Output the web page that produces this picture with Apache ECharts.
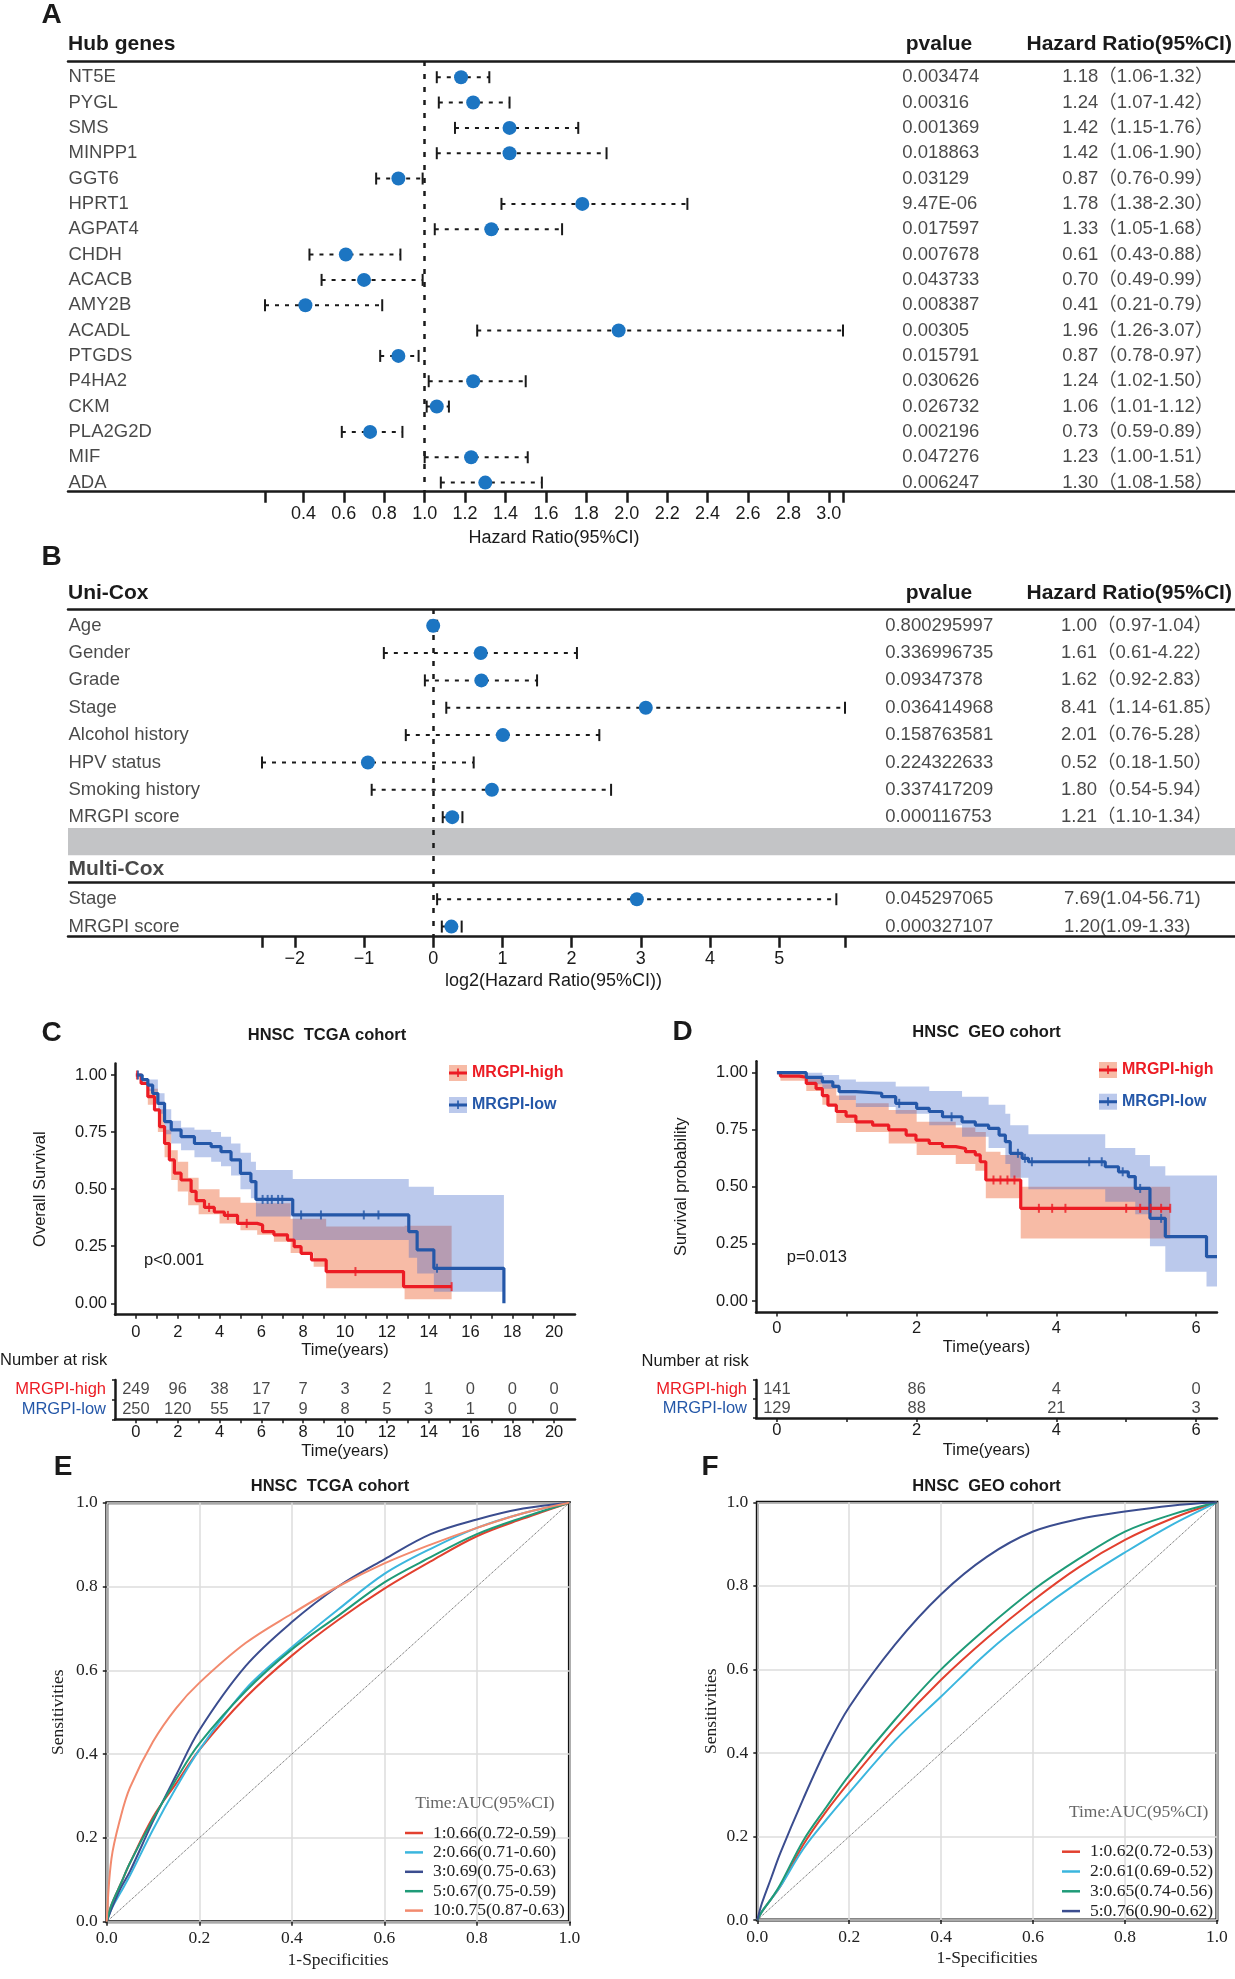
<!DOCTYPE html>
<html>
<head>
<meta charset="utf-8">
<script src="https://cdn.jsdelivr.net/npm/echarts@6/dist/echarts.min.js"></script>
<style>
html, body { margin: 0; padding: 0; background: #fff; }
#main { width: 1235px; height: 1979px; }
</style>
</head>
<body>
<div id="main"></div>
<script>
// ---- panel A : hub genes ----
var geneNames = ['NT5E', 'PYGL', 'SMS', 'MINPP1', 'GGT6', 'HPRT1', 'AGPAT4', 'CHDH', 'ACACB', 'AMY2B', 'ACADL', 'PTGDS', 'P4HA2', 'CKM', 'PLA2G2D', 'MIF', 'ADA'];
var geneP = ['0.003474', '0.00316', '0.001369', '0.018863', '0.03129', '9.47E-06', '0.017597', '0.007678', '0.043733', '0.008387', '0.00305', '0.015791', '0.030626', '0.026732', '0.002196', '0.047276', '0.006247'];
var geneHR = [1.18, 1.24, 1.42, 1.42, 0.87, 1.78, 1.33, 0.61, 0.70, 0.41, 1.96, 0.87, 1.24, 1.06, 0.73, 1.23, 1.30];
var geneLo = [1.06, 1.07, 1.15, 1.06, 0.76, 1.38, 1.05, 0.43, 0.49, 0.21, 1.26, 0.78, 1.02, 1.01, 0.59, 1.00, 1.08];
var geneHi = [1.32, 1.42, 1.76, 1.90, 0.99, 2.30, 1.68, 0.88, 0.99, 0.79, 3.07, 0.97, 1.50, 1.12, 0.89, 1.51, 1.58];
var hrTicks = [0.4, 0.6, 0.8, 1.0, 1.2, 1.4, 1.6, 1.8, 2.0, 2.2, 2.4, 2.6, 2.8, 3.0];

// ---- panel B : uni / multi cox ----
var uniVars = ['Age', 'Gender', 'Grade', 'Stage', 'Alcohol history', 'HPV status', 'Smoking history', 'MRGPI score'];
var uniP = ['0.800295997', '0.336996735', '0.09347378', '0.036414968', '0.158763581', '0.224322633', '0.337417209', '0.000116753'];
var uniHR = [1.00, 1.61, 1.62, 8.41, 2.01, 0.52, 1.80, 1.21];
var uniLo = [0.97, 0.61, 0.92, 1.14, 0.76, 0.18, 0.54, 1.10];
var uniHi = [1.04, 4.22, 2.83, 61.85, 5.28, 1.50, 5.94, 1.34];
var multiVars = ['Stage', 'MRGPI score'];
var multiP = ['0.045297065', '0.000327107'];
var multiHR = [7.69, 1.20];
var multiLo = [1.04, 1.09];
var multiHi = [56.71, 1.33];
var logTicks = [-2, -1, 0, 1, 2, 3, 4, 5];

// ---- panel C : TCGA KM ----
var cHigh = [[0, 1], [0.25, 0.963], [0.57, 0.905], [0.89, 0.847], [1.13, 0.774], [1.37, 0.70], [1.6, 0.628], [1.84, 0.57], [2.16, 0.54], [2.64, 0.49], [2.88, 0.45], [3.28, 0.42], [3.75, 0.40], [4.23, 0.385], [4.86, 0.35], [5.8, 0.343], [6.06, 0.314], [6.6, 0.30], [7.25, 0.277], [7.57, 0.248], [7.9, 0.219], [8.4, 0.19], [9.1, 0.139], [12.8, 0.073], [15.1, 0.073]];
var cLow = [[0, 1], [0.3, 0.98], [0.57, 0.956], [0.8, 0.92], [1.05, 0.876], [1.37, 0.796], [1.69, 0.76], [2.16, 0.73], [2.8, 0.70], [3.6, 0.686], [4.07, 0.664], [4.55, 0.628], [5.0, 0.569], [5.5, 0.533], [5.74, 0.455], [7.5, 0.387], [13.05, 0.314], [13.45, 0.234], [14.25, 0.153], [17.6, 0]];
var cHighBand = [[0, 1, 1], [0.57, 0.87, 0.94], [1.05, 0.75, 0.85], [1.37, 0.64, 0.76], [1.69, 0.54, 0.67], [2.0, 0.49, 0.62], [2.5, 0.43, 0.55], [3.0, 0.39, 0.50], [4.0, 0.35, 0.465], [5.0, 0.32, 0.44], [5.8, 0.30, 0.438], [6.6, 0.27, 0.438], [7.4, 0.22, 0.37], [8.5, 0.16, 0.37], [9.1, 0.066, 0.336], [12.85, 0.018, 0.34], [15.1, 0.018, 0.34]];
var cLowBand = [[0, 1, 1], [0.57, 0.93, 0.98], [1.05, 0.83, 0.92], [1.37, 0.74, 0.85], [1.69, 0.70, 0.80], [2.16, 0.67, 0.77], [2.8, 0.64, 0.76], [3.6, 0.62, 0.75], [4.07, 0.60, 0.73], [4.55, 0.56, 0.70], [5.0, 0.50, 0.66], [5.5, 0.46, 0.62], [5.74, 0.38, 0.584], [7.5, 0.277, 0.545], [13.05, 0.20, 0.51], [13.45, 0.13, 0.51], [14.25, 0.051, 0.474], [17.6, 0.051, 0.474]];
var cHighCens = [[0.05, 1.0], [3.5, 0.42], [4.4, 0.385], [5.3, 0.35], [10.5, 0.139], [15.1, 0.073]];
var cLowCens = [[0.1, 1.0], [6.06, 0.455], [6.3, 0.455], [6.5, 0.455], [6.8, 0.455], [7.0, 0.455], [7.9, 0.387], [8.85, 0.387], [10.9, 0.387], [11.6, 0.387], [14.4, 0.153]];
var riskTimesC = [0, 2, 4, 6, 8, 10, 12, 14, 16, 18, 20];
var riskHighC = [249, 96, 38, 17, 7, 3, 2, 1, 0, 0, 0];
var riskLowC = [250, 120, 55, 17, 9, 8, 5, 3, 1, 0, 0];
var yearTicksC = [0, 1, 2, 3, 4, 5, 6, 7, 8, 9, 10, 11, 12, 13, 14, 15, 16, 17, 18, 19, 20];
var yearLabelsC = [0, 2, 4, 6, 8, 10, 12, 14, 16, 18, 20];

// ---- panel D : GEO KM ----
var dHigh = [[0, 1], [0.05, 0.985], [0.32, 0.98], [0.42, 0.953], [0.56, 0.93], [0.65, 0.90], [0.73, 0.858], [0.85, 0.83], [0.99, 0.81], [1.13, 0.785], [1.37, 0.77], [1.6, 0.75], [1.85, 0.727], [1.99, 0.705], [2.18, 0.69], [2.37, 0.676], [2.56, 0.668], [2.7, 0.654], [2.84, 0.64], [2.91, 0.61], [2.99, 0.53], [3.49, 0.406], [5.63, 0.406]];
var dLow = [[0, 1], [0.42, 0.98], [0.65, 0.96], [0.8, 0.94], [0.89, 0.917], [1.13, 0.91], [1.5, 0.895], [1.7, 0.866], [2.0, 0.844], [2.18, 0.83], [2.37, 0.807], [2.65, 0.785], [2.84, 0.77], [3.03, 0.756], [3.18, 0.727], [3.27, 0.698], [3.34, 0.647], [3.51, 0.625], [3.6, 0.61], [4.7, 0.588], [4.89, 0.566], [5.03, 0.545], [5.13, 0.493], [5.34, 0.362], [5.56, 0.282], [6.15, 0.194], [6.3, 0.194]];
var dHighBand = [[0, 1, 1], [0.05, 0.965, 1], [0.42, 0.92, 0.985], [0.65, 0.86, 0.95], [0.85, 0.78, 0.90], [1.13, 0.74, 0.866], [1.6, 0.69, 0.837], [2.0, 0.64, 0.785], [2.56, 0.60, 0.76], [2.84, 0.57, 0.74], [2.99, 0.45, 0.654], [3.2, 0.45, 0.64], [3.49, 0.274, 0.50], [5.63, 0.274, 0.50]];
var dLowBand = [[0, 1, 1], [0.42, 0.95, 1], [0.65, 0.93, 0.99], [0.89, 0.88, 0.97], [1.13, 0.85, 0.96], [1.7, 0.82, 0.94], [2.18, 0.77, 0.92], [2.65, 0.72, 0.895], [3.03, 0.67, 0.86], [3.27, 0.60, 0.82], [3.34, 0.54, 0.77], [3.6, 0.49, 0.73], [4.7, 0.435, 0.67], [5.13, 0.38, 0.64], [5.34, 0.24, 0.59], [5.56, 0.128, 0.55], [6.15, 0.063, 0.55], [6.3, 0.063, 0.55]];
var dHighCens = [[3.1, 0.53], [3.2, 0.53], [3.3, 0.53], [3.4, 0.53], [3.75, 0.406], [3.94, 0.406], [4.13, 0.406], [5.0, 0.406], [5.2, 0.406], [5.35, 0.406], [5.5, 0.406], [5.63, 0.406]];
var dLowCens = [[1.75, 0.866], [2.5, 0.807], [3.45, 0.647], [3.55, 0.625], [3.65, 0.61], [4.47, 0.61], [4.65, 0.61], [4.95, 0.566], [5.2, 0.493], [5.5, 0.362]];
var riskTimesD = [0, 2, 4, 6];
var riskHighD = [141, 86, 4, 0];
var riskLowD = [129, 88, 21, 3];
var yearTicksD = [0, 1, 2, 3, 4, 5, 6];
var yearLabelsD = [0, 2, 4, 6];
var survTicks = [0, 0.25, 0.5, 0.75, 1];

// ---- panels E / F : time ROC ----
var fpr = [0, 0.01, 0.03, 0.05, 0.1, 0.15, 0.2, 0.3, 0.4, 0.5, 0.6, 0.7, 0.8, 0.9, 1];
var rocNamesE = ['1:0.66(0.72-0.59)', '2:0.66(0.71-0.60)', '3:0.69(0.75-0.63)', '5:0.67(0.75-0.59)', '10:0.75(0.87-0.63)'];
var rocColorsE = ['#e2402f', '#3bb6de', '#3b4d8f', '#1f9b78', '#f28a6e'];
var rocE = [
  [0, 0.04, 0.09, 0.14, 0.25, 0.33, 0.41, 0.535, 0.635, 0.72, 0.795, 0.86, 0.92, 0.962, 1],
  [0, 0.03, 0.07, 0.11, 0.22, 0.32, 0.41, 0.555, 0.655, 0.745, 0.83, 0.89, 0.94, 0.975, 1],
  [0, 0.03, 0.08, 0.12, 0.24, 0.35, 0.457, 0.61, 0.715, 0.80, 0.865, 0.925, 0.96, 0.986, 1],
  [0, 0.04, 0.09, 0.14, 0.245, 0.34, 0.425, 0.55, 0.65, 0.73, 0.81, 0.87, 0.925, 0.965, 1],
  [0, 0.15, 0.25, 0.32, 0.43, 0.51, 0.57, 0.665, 0.735, 0.80, 0.855, 0.90, 0.94, 0.975, 1]
];
var rocNamesF = ['1:0.62(0.72-0.53)', '2:0.61(0.69-0.52)', '3:0.65(0.74-0.56)', '5:0.76(0.90-0.62)'];
var rocColorsF = ['#e2402f', '#3bb6de', '#1f9b78', '#3b4d8f'];
var rocF = [
  [0, 0.02, 0.05, 0.08, 0.18, 0.26, 0.33, 0.46, 0.575, 0.675, 0.765, 0.845, 0.91, 0.96, 1],
  [0, 0.02, 0.05, 0.08, 0.17, 0.24, 0.305, 0.43, 0.535, 0.64, 0.73, 0.81, 0.88, 0.945, 1],
  [0, 0.02, 0.05, 0.085, 0.19, 0.27, 0.347, 0.48, 0.60, 0.70, 0.79, 0.865, 0.93, 0.97, 1],
  [0, 0.04, 0.10, 0.16, 0.29, 0.41, 0.51, 0.66, 0.78, 0.87, 0.93, 0.96, 0.978, 0.992, 1]
];

var FONT = 'Liberation Sans, Arial, sans-serif';
var CELL_FONT = 'Liberation Sans, Noto Sans CJK SC, sans-serif';
var SERIF = 'Liberation Serif, Times New Roman, serif';
var INK = '#1a1a1a';
var RED = '#ec1c24', BLUE = '#2457a8';
var RED_BAND = 'rgba(235,75,20,0.38)', BLUE_BAND = 'rgba(60,100,200,0.35)';
var DOT = '#1c75c2';

var myChart = echarts.init(document.getElementById('main'));

function hrText(h, l, u, wide) {
    var o = wide ? '\uff08' : '(', c = wide ? '\uff09' : ')';
    return h.toFixed(2) + o + l.toFixed(2) + '-' + u.toFixed(2) + c;
}
function log2(v) { return Math.log(v) / Math.LN2; }

// text cells of the forest tables, drawn as scatter labels
function cells(xi, yi, items, extra) {
    var label = {show: true, position: 'right', distance: 0, color: INK, fontSize: 18.5, fontFamily: CELL_FONT, formatter: '{b}'};
    for (var k in (extra || {})) label[k] = extra[k];
    return {
        type: 'scatter', xAxisIndex: xi, yAxisIndex: yi, silent: true, z: 1,
        symbolSize: 1, itemStyle: {color: 'rgba(0,0,0,0)'},
        label: label,
        data: items.map(function (c) { return {name: c[2], value: [c[0], c[1]]}; })
    };
}

function forestItem(params, api) {
    var y = api.value(3);
    var m = api.coord([api.value(0), y]);
    var a = api.coord([api.value(1), y]);
    var b = api.coord([api.value(2), y]);
    return {type: 'group', children: [
        {type: 'line', shape: {x1: a[0], y1: a[1], x2: b[0], y2: b[1]}, style: {stroke: INK, lineWidth: 2, lineDash: [4, 6]}},
        {type: 'line', shape: {x1: a[0], y1: a[1] - 6, x2: a[0], y2: a[1] + 6}, style: {stroke: INK, lineWidth: 2}},
        {type: 'line', shape: {x1: b[0], y1: b[1] - 6, x2: b[0], y2: b[1] + 6}, style: {stroke: INK, lineWidth: 2}},
        {type: 'circle', shape: {cx: m[0], cy: m[1], r: 7}, style: {fill: DOT}}
    ]};
}

function forestSeries(xi, yi, rows, refX) {
    return {
        type: 'custom', xAxisIndex: xi, yAxisIndex: yi, silent: true, z: 5,
        renderItem: forestItem,
        encode: {x: [0, 1, 2], y: 3},
        data: rows,
        markLine: {silent: true, symbol: 'none', label: {show: false},
            lineStyle: {color: INK, width: 2.5, type: [5, 8]}, data: [{xAxis: refX}]}
    };
}

function kmLine(name, data, color, xi, yi) {
    return {type: 'line', name: name, xAxisIndex: xi, yAxisIndex: yi, data: data, step: 'end',
        symbol: 'none', silent: true, z: 4, lineStyle: {color: color, width: 3.2}, itemStyle: {color: color}};
}
// confidence band as one stepped polygon
function kmBand(band, color, xi, yi) {
    return {
        type: 'custom', xAxisIndex: xi, yAxisIndex: yi, silent: true, z: 2,
        encode: {x: 0, y: [1, 2]},
        data: band,
        renderItem: function (params, api) {
            if (params.dataIndex !== 0) return null;
            var up = [], dn = [];
            for (var i = 0; i < band.length; i++) {
                var t1 = band[i][0];
                var t2 = i + 1 < band.length ? band[i + 1][0] : band[i][0];
                up.push(api.coord([t1, band[i][2]]), api.coord([t2, band[i][2]]));
                dn.push(api.coord([t1, band[i][1]]), api.coord([t2, band[i][1]]));
            }
            return {type: 'polygon', shape: {points: up.concat(dn.reverse())}, style: {fill: color}};
        }
    };
}
function censors(data, color, xi, yi) {
    return {type: 'scatter', xAxisIndex: xi, yAxisIndex: yi, silent: true, z: 4, symbol: 'rect',
        symbolSize: [2, 9], itemStyle: {color: color}, data: data};
}
function riskSeries(times, counts, row, xi, yi) {
    return {type: 'scatter', xAxisIndex: xi, yAxisIndex: yi, silent: true, symbolSize: 1,
        itemStyle: {color: 'rgba(0,0,0,0)'},
        label: {show: true, position: 'inside', color: INK, fontSize: 16.5, fontFamily: FONT, formatter: '{b}'},
        data: times.map(function (t, i) { return {name: String(counts[i]), value: [t, row]}; })};
}

// ---- axes helpers ----
function ruleAxis(gi, pos) {
    return {gridIndex: gi, type: 'value', min: 0, max: 1, position: pos,
        axisLine: {show: true, onZero: false, lineStyle: {color: INK, width: 2.5}},
        axisTick: {show: false}, axisLabel: {show: false}, splitLine: {show: false}};
}
function rowAxis(gi, min, max) {
    return {gridIndex: gi, type: 'value', inverse: true, min: min, max: max, show: false,
        axisLine: {onZero: false}, splitLine: {show: false}};
}
function forestAxis(gi, min, max, ticks, fmt, name, gap) {
    return {gridIndex: gi, type: 'value', min: min, max: max, position: 'bottom',
        axisLine: {show: false, onZero: false},
        axisTick: {show: true, length: 11, lineStyle: {color: INK, width: 2.5}, customValues: [min].concat(ticks).concat([max])},
        axisLabel: {customValues: ticks, formatter: fmt, color: INK, fontSize: 18, fontFamily: FONT, margin: 13},
        splitLine: {show: false},
        name: name, nameLocation: 'middle', nameGap: gap, nameTextStyle: {color: INK, fontSize: 18, fontFamily: FONT}};
}
function kmX(gi, min, max, ticks, labels, margin, gap) {
    return {gridIndex: gi, type: 'value', min: min, max: max, position: 'bottom',
        axisLine: {show: true, onZero: false, lineStyle: {color: INK, width: 2.5}},
        axisTick: {show: true, length: 4, lineStyle: {color: INK, width: 1.5}, customValues: ticks},
        axisLabel: {customValues: labels, color: INK, fontSize: 16.5, fontFamily: FONT, margin: margin},
        splitLine: {show: false},
        name: 'Time(years)', nameLocation: 'middle', nameGap: gap, nameTextStyle: {color: INK, fontSize: 16.5, fontFamily: FONT}};
}
function kmY(gi, name) {
    return {gridIndex: gi, type: 'value', min: -0.05, max: 1.05, position: 'left',
        axisLine: {show: true, onZero: false, lineStyle: {color: INK, width: 2.5}},
        axisTick: {show: true, length: 4, lineStyle: {color: INK, width: 1.5}, customValues: survTicks},
        axisLabel: {customValues: survTicks, formatter: function (v) { return v.toFixed(2); }, color: INK, fontSize: 16.5, fontFamily: FONT, margin: 8},
        splitLine: {show: false},
        name: name, nameLocation: 'middle', nameGap: 66, nameRotate: 90, nameTextStyle: {color: INK, fontSize: 16.5, fontFamily: FONT}};
}
function riskY(gi) {
    return {gridIndex: gi, type: 'category', inverse: true, data: ['MRGPI-high', 'MRGPI-low'], position: 'left',
        axisLine: {show: true, onZero: false, lineStyle: {color: INK, width: 2.5}},
        axisTick: {show: true, length: 3, lineStyle: {color: INK, width: 1.5}},
        axisLabel: {interval: 0, fontSize: 16.5, fontFamily: FONT, margin: 9, color: function (v, i) { return i === 0 ? RED : BLUE; }},
        splitLine: {show: false}};
}
function rocAxis(gi, name, gap, isY) {
    return {gridIndex: gi, type: 'value', min: 0, max: 1, interval: 0.2, position: isY ? 'left' : 'bottom',
        axisLine: {show: false, onZero: false},
        axisTick: {show: true, length: 4, lineStyle: {color: INK, width: 1.5}},
        axisLabel: {formatter: function (v) { return v.toFixed(1); }, color: '#222', fontSize: 17.5, fontFamily: SERIF, margin: isY ? 9 : 8},
        splitLine: {show: true, lineStyle: {color: '#dcdcdc', width: 1.5}},
        name: name, nameLocation: 'middle', nameGap: gap, nameRotate: isY ? 90 : 0,
        nameTextStyle: {color: '#222', fontSize: 17.5, fontFamily: SERIF}};
}

// ---- build forest rows ----
var minA = Math.min.apply(null, geneLo), maxA = Math.max.apply(null, geneHi);
var rowsA = geneNames.map(function (g, i) { return [geneHR[i], geneLo[i], geneHi[i], i]; });
var namesA = geneNames.map(function (g, i) { return [0, i, g]; });
var pA = geneP.map(function (p, i) { return [0.7144, i, p]; });
var hrA = geneHR.map(function (h, i) { return [0.8515, i, hrText(h, geneLo[i], geneHi[i], true)]; });

var multiRow0 = 10;
var minB = log2(Math.min.apply(null, uniLo.concat(multiLo)));
var maxB = log2(Math.max.apply(null, uniHi.concat(multiHi)));
var rowsB = uniVars.map(function (v, i) { return [log2(uniHR[i]), log2(uniLo[i]), log2(uniHi[i]), i]; })
    .concat(multiVars.map(function (v, i) { return [log2(multiHR[i]), log2(multiLo[i]), log2(multiHi[i]), multiRow0 + i]; }));
var namesB = uniVars.map(function (v, i) { return [0, i, v]; })
    .concat(multiVars.map(function (v, i) { return [0, multiRow0 + i, v]; }));
var pB = uniP.map(function (p, i) { return [0.6998, i, p]; })
    .concat(multiP.map(function (p, i) { return [0.6998, multiRow0 + i, p]; }));
var hrB = uniHR.map(function (h, i) { return [0.8505, i, hrText(h, uniLo[i], uniHi[i], true)]; })
    .concat(multiHR.map(function (h, i) { return [0.853, multiRow0 + i, hrText(h, multiLo[i], multiHi[i], false)]; }));

var namesBSeries = cells(3, 2, namesB);
namesBSeries.markArea = {silent: true, itemStyle: {color: '#c3c4c6'}, data: [[{yAxis: 7.4}, {yAxis: 8.39}]]};
namesBSeries.markLine = {silent: true, symbol: 'none', label: {show: false},
    lineStyle: {color: INK, width: 2.5, type: 'solid'}, data: [{yAxis: 9.39}]};

var series = [
    cells(0, 0, namesA), cells(0, 0, pA), cells(0, 0, hrA),
    forestSeries(2, 1, rowsA, 1),
    namesBSeries, cells(3, 2, pB), cells(3, 2, hrB),
    cells(3, 2, [[0, 8.89, 'Multi-Cox']], {fontWeight: 'bold', fontSize: 21}),
    forestSeries(5, 3, rowsB, 0)
];

// KM C
series.push(kmBand(cHighBand, RED_BAND, 6, 4), kmBand(cLowBand, BLUE_BAND, 6, 4),
    kmLine('MRGPI-high', cHigh, RED, 6, 4), kmLine('MRGPI-low', cLow, BLUE, 6, 4),
    censors(cHighCens, RED, 6, 4), censors(cLowCens, BLUE, 6, 4),
    riskSeries(riskTimesC, riskHighC, 0, 7, 5), riskSeries(riskTimesC, riskLowC, 1, 7, 5));
// KM D
series.push(kmBand(dHighBand, RED_BAND, 8, 6), kmBand(dLowBand, BLUE_BAND, 8, 6),
    kmLine('MRGPI-high', dHigh, RED, 8, 6), kmLine('MRGPI-low', dLow, BLUE, 8, 6),
    censors(dHighCens, RED, 8, 6), censors(dLowCens, BLUE, 8, 6),
    riskSeries(riskTimesD, riskHighD, 0, 9, 7), riskSeries(riskTimesD, riskLowD, 1, 9, 7));

// ROC
function rocSeries(names, colors, curves, xi, yi) {
    return names.map(function (n, k) {
        var s = {type: 'line', name: n, xAxisIndex: xi, yAxisIndex: yi, smooth: 0.35, symbol: 'none', silent: true,
            lineStyle: {color: colors[k], width: 2}, itemStyle: {color: colors[k]},
            data: fpr.map(function (f, i) { return [f, curves[k][i]]; })};
        if (k === 0) {
            s.markLine = {silent: true, symbol: 'none', label: {show: false},
                lineStyle: {color: '#555', width: 1, type: 'dotted'},
                data: [[{coord: [0, 0]}, {coord: [1, 1]}]]};
        }
        return s;
    });
}
series = series.concat(rocSeries(rocNamesE, rocColorsE, rocE, 10, 8), rocSeries(rocNamesF, rocColorsF, rocF, 11, 9));

var keyLine = 'path://M0,0L0.01,0M0,6.5L18,6.5L18,9.5L0,9.5ZM8.2,3.5L9.8,3.5L9.8,12L8.2,12ZM0,16L0.01,16';
function kmLegends(left, top, gap) {
    var base = {orient: 'vertical', left: left, top: top, itemWidth: 18, itemHeight: 16, itemGap: gap,
        selectedMode: false, padding: 0, textStyle: {fontSize: 16, fontWeight: 'bold', fontFamily: FONT, lineHeight: 16}};
    var a = JSON.parse(JSON.stringify(base)), b = JSON.parse(JSON.stringify(base));
    a.data = [{name: 'MRGPI-high', icon: 'rect', itemStyle: {color: RED_BAND}, textStyle: {color: RED}},
        {name: 'MRGPI-low', icon: 'rect', itemStyle: {color: BLUE_BAND}, textStyle: {color: BLUE}}];
    b.z = 10;
    b.data = [{name: 'MRGPI-high', icon: keyLine, itemStyle: {color: RED, borderWidth: 0}, textStyle: {color: 'rgba(0,0,0,0)'}},
        {name: 'MRGPI-low', icon: keyLine, itemStyle: {color: BLUE, borderWidth: 0}, textStyle: {color: 'rgba(0,0,0,0)'}}];
    return [a, b];
}
function rocLegend(names, left, top, lh) {
    return {orient: 'vertical', left: left, top: top, itemWidth: 18, itemHeight: 2.5, itemGap: 0, icon: 'rect',
        selectedMode: false, padding: 0, data: names,
        textStyle: {fontSize: 17.5, fontFamily: SERIF, color: '#222', lineHeight: lh, padding: [0, 0, 0, 5]}};
}

function txt(x, y, s, font, color, align) {
    return {type: 'text', x: x, y: y, silent: true, z: 20,
        style: {text: s, font: font, fill: color || INK, align: align || 'left', verticalAlign: 'middle'}};
}
var LET = 'bold 28px ' + FONT, HEAD = 'bold 21px ' + FONT, TITLE = 'bold 16.5px ' + FONT;

myChart.setOption({
    animation: false,
    backgroundColor: '#fff',
    textStyle: {fontFamily: FONT},
    grid: [
        {left: 68, top: 61, width: 1167, height: 430.7, outerBoundsMode: 'none'},
        {left: 265, top: 61, width: 578, height: 430.7, outerBoundsMode: 'none'},
        {left: 68, top: 609, width: 1167, height: 327.7, outerBoundsMode: 'none'},
        {left: 262, top: 609, width: 583, height: 327.7, outerBoundsMode: 'none'},
        {left: 115, top: 1063.6, width: 460, height: 251.1, outerBoundsMode: 'none'},
        {left: 115, top: 1380, width: 460, height: 39.3, outerBoundsMode: 'none'},
        {left: 756, top: 1061.3, width: 461, height: 251.1, outerBoundsMode: 'none'},
        {left: 756, top: 1380, width: 461, height: 38, outerBoundsMode: 'none'},
        {left: 106.8, top: 1502.7, width: 462.6, height: 419, show: true, borderColor: '#111', borderWidth: 3, outerBoundsMode: 'none'},
        {left: 757.3, top: 1502.3, width: 459.6, height: 417.7, show: true, borderColor: '#111', borderWidth: 3, outerBoundsMode: 'none'}
    ],
    xAxis: [
        ruleAxis(0, 'bottom'), ruleAxis(0, 'top'),
        forestAxis(1, minA, maxA, hrTicks, function (v) { return v.toFixed(1); }, 'Hazard Ratio(95%CI)', 37),
        ruleAxis(2, 'bottom'), ruleAxis(2, 'top'),
        forestAxis(3, minB, maxB, logTicks, function (v) { return v < 0 ? '\u2212' + Math.abs(v) : String(v); }, 'log2(Hazard Ratio(95%CI))', 35),
        kmX(4, -1, 21, yearTicksC, yearLabelsC, 9, 27),
        kmX(5, -1, 21, yearTicksC, yearLabelsC, 5, 24),
        kmX(6, -0.3, 6.3, yearTicksD, yearLabelsD, 8, 27),
        kmX(7, -0.3, 6.3, yearTicksD, yearLabelsD, 4, 24),
        rocAxis(8, '1-Specificities', 30, false),
        rocAxis(9, '1-Specificities', 29, false)
    ],
    yAxis: [
        rowAxis(0, -0.64, 16.36), rowAxis(1, -0.64, 16.36),
        rowAxis(2, -0.61, 11.37), rowAxis(3, -0.61, 11.37),
        kmY(4, 'Overall Survival'), riskY(5),
        kmY(6, 'Survival probability'), riskY(7),
        rocAxis(8, 'Sensitivities', 39, true),
        rocAxis(9, 'Sensitivities', 37, true)
    ],
    legend: kmLegends(449, 1065, 16).concat(kmLegends(1099, 1062, 15.7)).concat([
        rocLegend(rocNamesE, 405, 1823.3, 19.4),
        rocLegend(rocNamesF, 1062, 1841.8, 19.8)
    ]),
    graphic: [
        txt(41.5, 15, 'A', LET), txt(41.5, 557, 'B', LET), txt(41.5, 1033, 'C', LET),
        txt(682.7, 1032, 'D', LET, INK, 'center'), txt(63, 1467, 'E', LET, INK, 'center'), txt(710, 1467, 'F', LET, INK, 'center'),
        txt(68, 44, 'Hub genes', HEAD), txt(939, 44, 'pvalue', HEAD, INK, 'center'), txt(1026.5, 44, 'Hazard Ratio(95%CI)', HEAD),
        txt(68, 593, 'Uni-Cox', HEAD), txt(939, 593, 'pvalue', HEAD, INK, 'center'), txt(1026.5, 593, 'Hazard Ratio(95%CI)', HEAD),
        txt(327, 1035, 'HNSC  TCGA cohort', TITLE, INK, 'center'),
        txt(986.6, 1032, 'HNSC  GEO cohort', TITLE, INK, 'center'),
        txt(330, 1486, 'HNSC  TCGA cohort', TITLE, INK, 'center'),
        txt(986.6, 1486, 'HNSC  GEO cohort', TITLE, INK, 'center'),
        txt(144, 1260, 'p<0.001', '16.5px ' + FONT), txt(786.7, 1257, 'p=0.013', '16.5px ' + FONT),
        txt(0, 1360, 'Number at risk', '16.5px ' + FONT), txt(641.6, 1361.7, 'Number at risk', '16.5px ' + FONT),
        txt(485, 1803, 'Time:AUC(95%CI)', '17.5px ' + SERIF, '#666', 'center'),
        txt(1138.6, 1812.7, 'Time:AUC(95%CI)', '17.5px ' + SERIF, '#666', 'center')
    ],
    series: series
});
window.onresize = function () {
    myChart.resize();
};
</script>
</body>
</html>
